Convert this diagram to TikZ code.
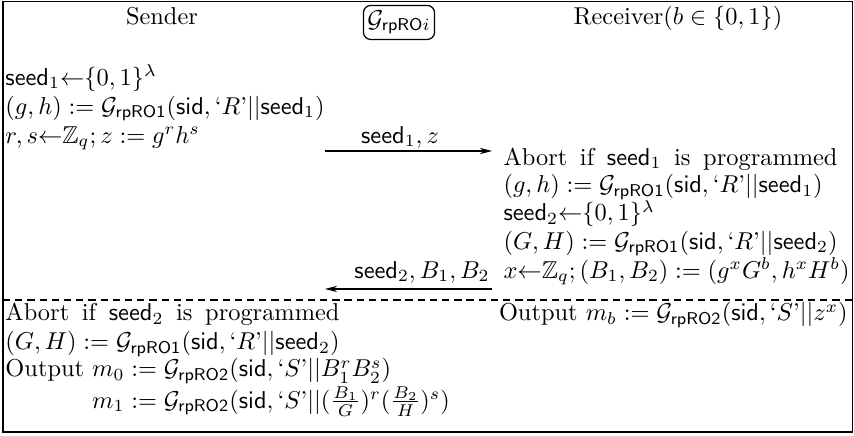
\documentclass[tikz,border=0pt]{standalone}
\usepackage{amsmath,amssymb}
\usepackage{tikz}
\usetikzlibrary{arrows.meta}

\newcommand{\Grp}[1]{\mathcal{G}_{\mathsf{rpRO#1}}}
\newcommand{\seed}{\mathsf{seed}}
\newcommand{\sid}{\mathsf{sid}}
\newcommand{\lit}[1]{\text{`}#1\text{'}}

\begin{document}
\begin{tikzpicture}[
  x=1mm, y=1mm,
  ln/.style   = {anchor=base west, inner sep=0pt},
  lnr/.style  = {anchor=base east, inner sep=0pt},
  wide/.style = {execute at begin node={\spaceskip=5.2pt plus 1pt\relax}},
  hdr/.style  = {anchor=base, inner sep=0pt},
  orc/.style  = {draw, rounded corners=3pt, line width=0.5pt,
                 inner sep=1.6pt, minimum height=4.9mm},
  msg/.style  = {anchor=base, inner sep=0pt},
  ar/.style   = {-{Stealth[length=5pt,width=2.6pt]}, line width=0.45pt},
  frm/.style  = {line width=0.6pt},
]
  \useasboundingbox (0,0) rectangle (123.05,62.68);

  % ---- frame ------------------------------------------------
  \coordinate (nw) at (  0.43, 62.46);
  \coordinate (se) at (122.80,  0.43);
  \draw[frm] (nw) rectangle (se);

  % ---- headers ----------------------------------------------
  \node[hdr] (snd) at (23.34, 59.08) {Sender};
  \node[orc] (ro)  at (57.49, 59.44) {$\mathcal{G}_{\mathsf{rpRO}i}$};
  \node[hdr] (rcv) at (97.69, 59.08) {Receiver$(b \in \{0,1\})$};

  % ---- sender, first move -----------------------------------
  \node[ln] (s1) at (0.72, 50.43) {$\seed_1{\leftarrow}\{0,1\}^\lambda$};
  \node[ln] (s2) at (0.72, 46.25) {$(g,h) := \Grp{1}(\sid, \lit{R}||\seed_1)$};
  \node[ln] (s3) at (0.72, 42.07) {$r,s{\leftarrow}\mathbb{Z}_q; z := g^r h^s$};

  % ---- messages ---------------------------------------------
  \coordinate (m1a) at (46.83, 40.92);
  \coordinate (m1b) at (70.89, 40.92);
  \draw[ar] (m1a) -- (m1b);
  \node[msg] (l1) at (57.64, 42.07) {$\seed_1, z$};

  \coordinate (m2a) at (70.89, 21.04);
  \coordinate (m2b) at (46.83, 21.04);
  \draw[ar] (m2a) -- (m2b);
  \node[lnr] (l2) at (70.61, 22.62) {$\seed_2, B_1, B_2$};

  % ---- receiver ---------------------------------------------
  \node[ln, wide] (r1) at (72.48, 38.90) {Abort if $\seed_1$ is programmed};
  \node[ln] (r2) at (72.48, 34.87) {$(g,h) := \Grp{1}(\sid, \lit{R}||\seed_1)$};
  \node[ln] (r3) at (72.48, 30.84) {$\seed_2{\leftarrow}\{0,1\}^\lambda$};
  \node[ln] (r4) at (72.48, 26.80) {$(G,H) := \Grp{1}(\sid, \lit{R}||\seed_2)$};
  \node[ln] (r5) at (72.48, 22.62) {$x{\leftarrow}\mathbb{Z}_q; (B_1,B_2) := (g^xG^b, h^xH^b)$};

  % ---- outputs ----------------------------------------------
  \coordinate (dl) at (  0.43, 19.45);
  \coordinate (dr) at (122.80, 19.45);
  \draw[dash pattern=on 3pt off 2pt, line width=0.45pt] (dl) -- (dr);

  \node[ln, wide] (o1) at (  0.72, 16.43) {Abort if $\seed_2$ is programmed};
  \node[ln]  (o2) at (  0.72, 12.25) {$(G,H) := \Grp{1}(\sid, \lit{R}||\seed_2)$};
  \node[ln]  (o3) at (  0.72,  8.36) {Output $m_0 := \Grp{2}(\sid, \lit{S}||B_1^rB_2^s)$};
  \node[ln]  (o4) at (  0.72,  3.89)
    {\phantom{Output }$m_1 := \Grp{2}(\sid, \lit{S}||(\frac{B_1}{G})^r(\frac{B_2}{H})^s)$};
  \node[lnr] (ob) at (122.19, 16.43) {Output $m_b := \Grp{2}(\sid, \lit{S}||z^x)$};

\end{tikzpicture}
\end{document}
